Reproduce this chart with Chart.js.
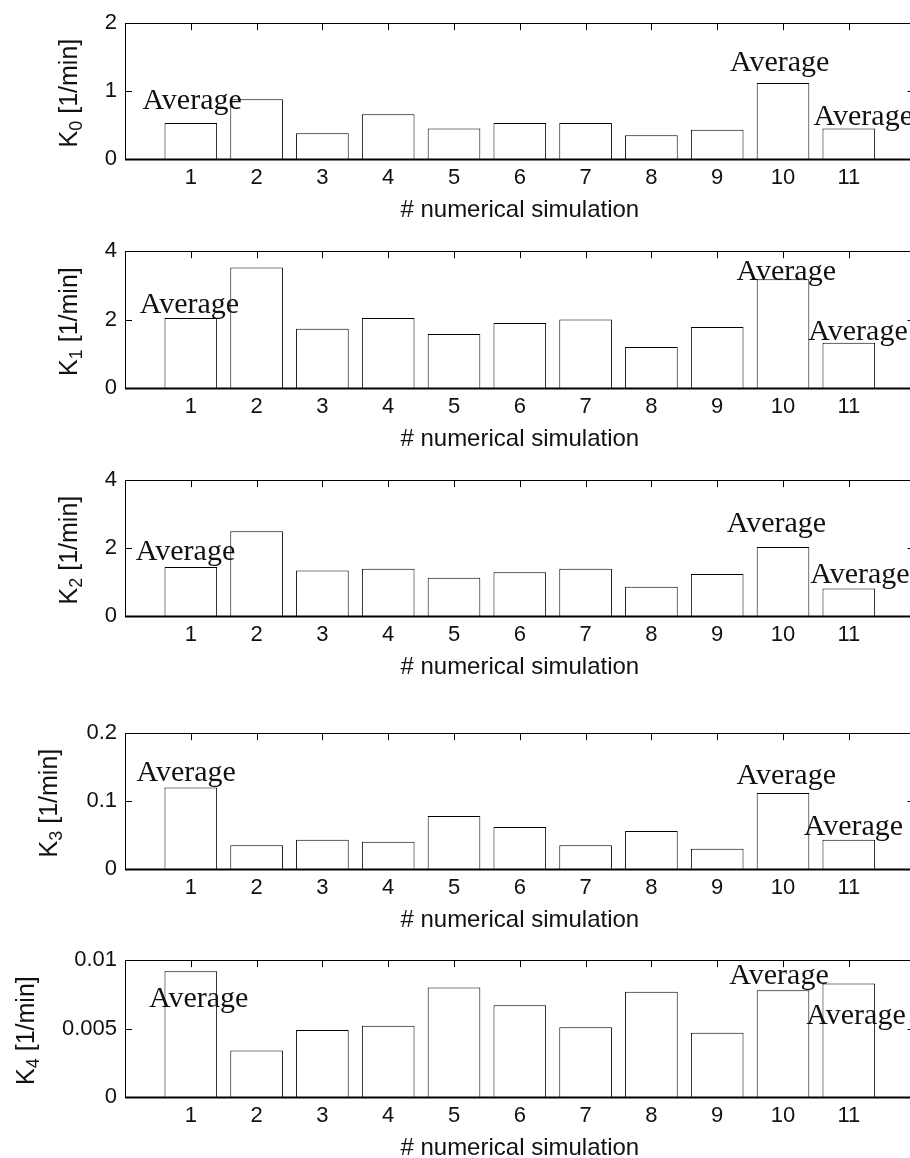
<!DOCTYPE html>
<html>
<head>
<meta charset="utf-8">
<script src="https://cdn.jsdelivr.net/npm/chart.js@4.4.1/dist/chart.umd.min.js"></script>
<style>
  html, body { margin: 0; padding: 0; background: #fff; width: 910px; height: 1158px; overflow: hidden; }
  #wrap { position: relative; width: 910px; height: 1158px; overflow: hidden; }
  canvas { position: absolute; left: 0; }
</style>
</head>
<body>
<div id="wrap"></div>
<script>
// ---------- data ----------
const categories = [1, 2, 3, 4, 5, 6, 7, 8, 9, 10, 11];
const xRange = [0, 12];

const k0Values = [0.53, 0.88, 0.38, 0.66, 0.45, 0.53, 0.53, 0.35, 0.43, 1.12, 0.45];
const k1Values = [2.05, 3.52, 1.73, 2.05, 1.58, 1.90, 2.00, 1.20, 1.78, 3.18, 1.32];
const k2Values = [1.44, 2.50, 1.34, 1.39, 1.13, 1.29, 1.39, 0.86, 1.24, 2.03, 0.81];
const k3Values = [0.120, 0.035, 0.043, 0.040, 0.078, 0.062, 0.035, 0.056, 0.030, 0.112, 0.043];
const k4Values = [0.0092, 0.0034, 0.0049, 0.0052, 0.0080, 0.0067, 0.0051, 0.0077, 0.0047, 0.0078, 0.0083];

const k0Ticks = [0, 1, 2];          const k0TickLabels = ['0', '1', '2'];
const k1Ticks = [0, 2, 4];          const k1TickLabels = ['0', '2', '4'];
const k2Ticks = [0, 2, 4];          const k2TickLabels = ['0', '2', '4'];
const k3Ticks = [0, 0.1, 0.2];      const k3TickLabels = ['0', '0.1', '0.2'];
const k4Ticks = [0, 0.005, 0.01];   const k4TickLabels = ['0', '0.005', '0.01'];

const ySubscripts = ['0', '1', '2', '3', '4'];
const yTitleRest = ' [1/min]';
const xTitle = '# numerical simulation';
const annotationText = 'Average';

// "Average" anchors in data coordinates: [x centre, y baseline]
const k0Avg = [[1.02, 0.74], [9.95, 1.30], [11.22, 0.505]];
const k1Avg = [[0.98, 2.20], [10.05, 3.15], [11.14, 1.40]];
const k2Avg = [[0.92, 1.65], [9.90, 2.47], [11.17, 0.96]];
const k3Avg = [[0.93, 0.130], [10.05, 0.125], [11.07, 0.0494]];
const k4Avg = [[1.12, 0.00657], [9.94, 0.00826], [11.11, 0.00536]];

// ---------- layout (pixels) ----------
const plotTops    = [22, 250, 479, 732, 959];
const plotBottoms = [159, 388, 616, 869, 1097];
const plotLeft = 125;
const plotRight = 914.6;
const canvasW = 940;
const padTop = 20;
const xAxisH = 75;
const yTitleCx = [68, 68, 68, 48, 25];

const SANS = '"Liberation Sans", Arial, Helvetica, sans-serif';
const SERIF = '"Liberation Serif", "Times New Roman", serif';

const panels = [
  { values: k0Values, ticks: k0Ticks, labels: k0TickLabels, avg: k0Avg },
  { values: k1Values, ticks: k1Ticks, labels: k1TickLabels, avg: k1Avg },
  { values: k2Values, ticks: k2Ticks, labels: k2TickLabels, avg: k2Avg },
  { values: k3Values, ticks: k3Ticks, labels: k3TickLabels, avg: k3Avg },
  { values: k4Values, ticks: k4Ticks, labels: k4TickLabels, avg: k4Avg },
];

const matlabPlugin = {
  id: 'matlabLook',
  beforeDatasetsDraw(chart) {
    const { ctx, chartArea: a, scales: { x, y } } = chart;
    ctx.save();
    ctx.strokeStyle = '#000';
    ctx.lineWidth = 1;
    ctx.beginPath();
    x.ticks.forEach(t => {
      const px = Math.round(x.getPixelForValue(t.value)) + 0.5;
      ctx.moveTo(px, a.top); ctx.lineTo(px, a.top + 7);
      ctx.moveTo(px, a.bottom); ctx.lineTo(px, a.bottom - 7);
    });
    y.ticks.forEach(t => {
      const py = Math.round(y.getPixelForValue(t.value)) + 0.5;
      ctx.moveTo(a.left, py); ctx.lineTo(a.left + 7, py);
      ctx.moveTo(a.right, py); ctx.lineTo(a.right - 7, py);
    });
    ctx.stroke();
    ctx.restore();
  },
  afterDatasetsDraw(chart) {
    const { ctx, chartArea: a, scales: { x, y } } = chart;
    const o = chart.options.plugins.matlabLook;
    ctx.save();
    // box
    ctx.strokeStyle = '#000';
    ctx.lineWidth = 1;
    ctx.strokeRect(Math.round(a.left) + 0.5, Math.round(a.top) + 0.5,
                   Math.round(a.right - a.left), Math.round(a.bottom - a.top));
    ctx.lineWidth = 2;
    ctx.beginPath();
    ctx.moveTo(a.left, Math.round(a.bottom) + 0.5);
    ctx.lineTo(a.right, Math.round(a.bottom) + 0.5);
    ctx.stroke();

    // annotations
    ctx.fillStyle = '#111';
    ctx.font = '30px ' + SERIF;
    ctx.textAlign = 'center';
    ctx.textBaseline = 'alphabetic';
    o.avg.forEach(p => {
      ctx.fillText(annotationText, x.getPixelForValue(p[0]), y.getPixelForValue(p[1]));
    });

    // x title
    ctx.font = '24px ' + SANS;
    ctx.textBaseline = 'middle';
    ctx.fillText(xTitle, (a.left + x.getPixelForValue(12)) / 2, a.bottom + 51);
    ctx.restore();

    // y title with subscript (rotated)
    ctx.save();
    const cy = (a.top + a.bottom) / 2 + 2;
    ctx.translate(o.yTitleX, cy);
    ctx.rotate(-Math.PI / 2);
    const mainF = '25px ' + SANS, subF = '18px ' + SANS;
    ctx.font = mainF; const wK = ctx.measureText('K').width; const wR = ctx.measureText(yTitleRest).width;
    ctx.font = subF; const wS = ctx.measureText(o.sub).width;
    const total = wK + wS + wR;
    let sx = -total / 2;
    const base = 25 * 0.716 / 2;
    ctx.fillStyle = '#111';
    ctx.textAlign = 'left';
    ctx.textBaseline = 'alphabetic';
    ctx.font = mainF; ctx.fillText('K', sx, base); sx += wK;
    ctx.font = subF; ctx.fillText(o.sub, sx, base + 5); sx += wS;
    ctx.font = mainF; ctx.fillText(yTitleRest, sx, base);
    ctx.restore();
  }
};

const wrap = document.getElementById('wrap');
panels.forEach((p, i) => {
  const cv = document.createElement('canvas');
  const top = plotTops[i], bottom = plotBottoms[i];
  const h = padTop + (bottom - top) + xAxisH;
  cv.width = canvasW; cv.height = h;
  cv.style.width = canvasW + 'px'; cv.style.height = h + 'px';
  cv.style.top = (top - padTop) + 'px';
  wrap.appendChild(cv);

  new Chart(cv.getContext('2d'), {
    type: 'bar',
    data: {
      datasets: [{
        data: categories.map((c, k) => ({ x: c, y: p.values[k] })),
        backgroundColor: '#ffffff',
        borderColor: '#000000',
        borderWidth: 1,
        barPercentage: 0.8,
        categoryPercentage: 1.0
      }]
    },
    options: {
      responsive: false,
      animation: false,
      devicePixelRatio: 1,
      layout: { padding: { top: padTop, left: 0, right: canvasW - plotRight, bottom: 0 } },
      plugins: {
        legend: { display: false },
        tooltip: { enabled: false },
        matlabLook: { avg: p.avg, sub: ySubscripts[i], yTitleX: yTitleCx[i] }
      },
      scales: {
        x: {
          type: 'linear',
          offset: false,
          min: xRange[0], max: xRange[1],
          afterBuildTicks: s => { s.ticks = categories.map(v => ({ value: v })); },
          afterFit: s => { s.height = xAxisH; },
          ticks: {
            autoSkip: false, maxRotation: 0, padding: 6,
            color: '#111', font: { family: SANS, size: 22 },
            callback: v => String(v)
          },
          grid: { display: false, drawTicks: false },
          border: { display: false }
        },
        y: {
          type: 'linear',
          min: p.ticks[0], max: p.ticks[p.ticks.length - 1],
          afterBuildTicks: s => { s.ticks = p.ticks.map(v => ({ value: v })); },
          afterFit: s => { s.width = plotLeft; },
          ticks: {
            padding: 8, color: '#111', font: { family: SANS, size: 22 },
            callback: (v) => { const k = p.ticks.indexOf(v); return k >= 0 ? p.labels[k] : ''; }
          },
          grid: { display: false, drawTicks: false },
          border: { display: false }
        }
      }
    },
    plugins: [matlabPlugin]
  });
});
</script>
</body>
</html>
